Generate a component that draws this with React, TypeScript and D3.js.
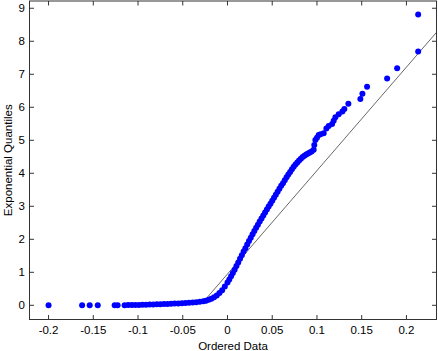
import React from "react";
import * as d3 from "d3";

// ordered sample data (x) against exponential quantiles (y)
const orderedData = [
  -0.2, -0.1625, -0.154, -0.145, -0.1261, -0.1228,
  -0.115, -0.111, -0.107, -0.103, -0.099, -0.095, -0.091, -0.087, -0.083, -0.079,
  -0.075, -0.071, -0.067, -0.063, -0.059, -0.055, -0.051, -0.047, -0.043, -0.039,
  -0.035, -0.031, -0.027, -0.024, -0.021, -0.018, -0.015, -0.012, -0.009, -0.006,
  -0.003, 0.0, 0.002, 0.004, 0.006, 0.008, 0.01, 0.012, 0.014, 0.016,
  0.018, 0.02, 0.022, 0.024, 0.026, 0.028, 0.03, 0.032, 0.034, 0.036,
  0.038, 0.04, 0.042, 0.044, 0.046, 0.048, 0.05, 0.052, 0.054, 0.056,
  0.058, 0.06, 0.062, 0.064, 0.066, 0.068, 0.07, 0.072, 0.074, 0.076,
  0.078, 0.08, 0.082, 0.084, 0.086, 0.088, 0.09, 0.092, 0.094, 0.0963,
  0.097, 0.0982, 0.1, 0.1019, 0.104, 0.1075, 0.1105, 0.1131, 0.1169, 0.1187,
  0.1206, 0.1243, 0.1284, 0.1306, 0.1351, 0.1485, 0.1508, 0.156, 0.1784, 0.1896,
  0.2131, 0.2131,
];
const expQuantiles = [
  0.0002, 0.0005, 0.0008, 0.0011, 0.0014, 0.0017,
  0.005, 0.007, 0.009, 0.011, 0.013, 0.016, 0.019, 0.022, 0.026, 0.03,
  0.034, 0.038, 0.042, 0.047, 0.052, 0.058, 0.064, 0.071, 0.078, 0.086,
  0.095, 0.106, 0.12, 0.14, 0.165, 0.2, 0.245, 0.3, 0.37, 0.46,
  0.57, 0.69, 0.78, 0.88, 0.98, 1.08, 1.19, 1.3, 1.41, 1.52,
  1.63, 1.73, 1.84, 1.95, 2.05, 2.15, 2.25, 2.35, 2.44, 2.54,
  2.63, 2.72, 2.81, 2.9, 2.99, 3.08, 3.17, 3.26, 3.35, 3.44,
  3.53, 3.62, 3.7, 3.79, 3.88, 3.96, 4.04, 4.12, 4.2, 4.27,
  4.33, 4.39, 4.44, 4.49, 4.53, 4.57, 4.6, 4.63, 4.66, 4.71,
  4.86, 5.01, 5.08, 5.16, 5.18, 5.21, 5.36, 5.43, 5.49, 5.59,
  5.7, 5.79, 5.87, 5.95, 6.11, 6.25, 6.41, 6.62, 6.87, 7.18,
  7.69, 8.81,
];

// reference line end points
const refLineX = [-0.0268, 0.2336];
const refLineY = [0.109, 8.27];

const xTicks = [-0.2, -0.15, -0.1, -0.05, 0, 0.05, 0.1, 0.15, 0.2];
const xTickLabels = ["-0.2", "-0.15", "-0.1", "-0.05", "0", "0.05", "0.1", "0.15", "0.2"];
const yTicks = [0, 1, 2, 3, 4, 5, 6, 7, 8, 9];

const W = 438;
const H = 351;
const left = 29.5, right = 436.5, top = 1, bottom = 319.5;
const font = "'Liberation Sans', Arial, Helvetica, sans-serif";

export default function App() {
  const x = d3.scaleLinear().domain([-0.2213, 0.2336]).range([left, right]);
  const y = d3.scaleLinear().domain([-0.43, 9.22]).range([bottom, top]);

  const points = orderedData.map((d, i) => ({ x: d, y: expQuantiles[i] }));
  const refLine = d3.line<number>()
    .x((d) => x(d))
    .y((_, i) => y(refLineY[i]));

  const tl = 4.5;
  const axisColor = "#333";
  const fs = 11.5;

  return (
    <svg width={W} height={H} style={{ position: "absolute", left: 0, top: 0, background: "#fff" }}>
      <defs>
        <clipPath id="plot">
          <rect x={left} y={top} width={right - left} height={bottom - top} />
        </clipPath>
      </defs>
      <rect x={0} y={0} width={W} height={H} fill="#fff" />

      <path d={refLine(refLineX) ?? ""} stroke="#000" strokeWidth={0.6} fill="none" clipPath="url(#plot)" />

      <g fill="#0000ff">
        {points.map((p, i) => (
          <circle key={i} cx={x(p.x)} cy={y(p.y)} r={3} />
        ))}
      </g>

      {/* box */}
      <rect x={left} y={top} width={right - left} height={bottom - top} fill="none" stroke={axisColor} strokeWidth={1} />

      {xTicks.map((t, i) => (
        <g key={"x" + i}>
          <line x1={x(t)} x2={x(t)} y1={bottom} y2={bottom - tl} stroke={axisColor} />
          <line x1={x(t)} x2={x(t)} y1={top} y2={top + tl} stroke={axisColor} />
          <text x={x(t)} y={334} textAnchor="middle" fontFamily={font} fontSize={fs} fill="#000">
            {xTickLabels[i]}
          </text>
        </g>
      ))}
      {yTicks.map((t) => (
        <g key={"y" + t}>
          <line x1={left} x2={left + tl} y1={y(t)} y2={y(t)} stroke={axisColor} />
          <line x1={right} x2={right - tl} y1={y(t)} y2={y(t)} stroke={axisColor} />
          <text x={25} y={y(t)} dy="0.36em" textAnchor="end" fontFamily={font} fontSize={fs} fill="#000">
            {t}
          </text>
        </g>
      ))}

      <text x={(left + right) / 2} y={350} textAnchor="middle" fontFamily={font} fontSize={fs} fill="#000">
        Ordered Data
      </text>
      <text
        transform={`translate(12, ${(top + bottom) / 2}) rotate(-90)`}
        textAnchor="middle"
        fontFamily={font}
        fontSize={fs}
        fill="#000"
      >
        Exponential Quantiles
      </text>
    </svg>
  );
}
